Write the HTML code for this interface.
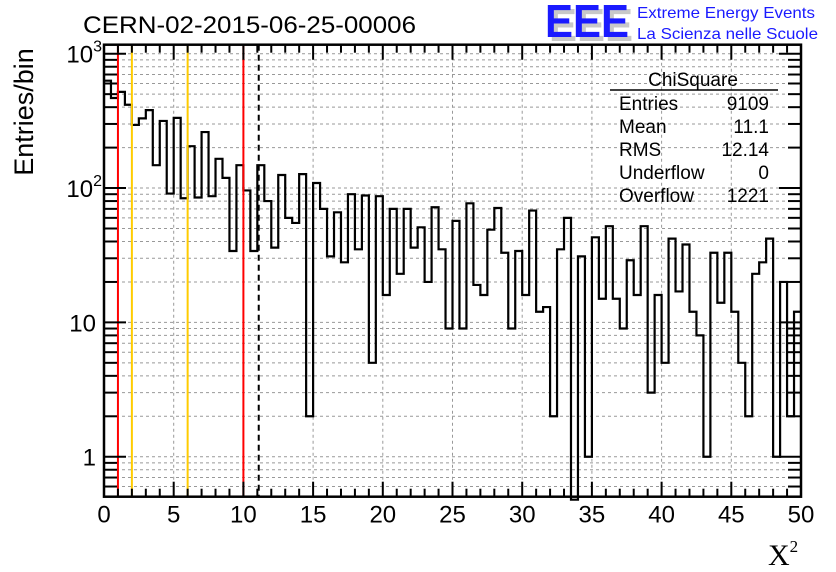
<!DOCTYPE html>
<html><head><meta charset="utf-8"><style>
html,body{margin:0;padding:0;background:#fff;}
svg{display:block;font-family:"Liberation Sans",sans-serif;}
</style></head><body>
<svg id="c" width="836" height="572" viewBox="0 0 836 572">
<g id="grid"></g>
<g id="marks"></g>
<g id="axes"></g>
<text x="83" y="33" font-size="24.5" textLength="333" lengthAdjust="spacingAndGlyphs">CERN-02-2015-06-25-00006</text>
<g>
<text x="549" y="41" font-size="46" font-weight="bold" fill="#c8c8c8" textLength="84" lengthAdjust="spacingAndGlyphs">EEE</text>
<text x="545" y="37" font-size="46" font-weight="bold" fill="#1a1aff" textLength="84" lengthAdjust="spacingAndGlyphs">EEE</text>
<text x="637" y="18" font-size="16" fill="#1a1aff" textLength="178" lengthAdjust="spacingAndGlyphs">Extreme Energy Events</text>
<text x="637" y="39" font-size="16" fill="#1a1aff" textLength="181" lengthAdjust="spacingAndGlyphs">La Scienza nelle Scuole</text>
</g>
<g font-size="19">
<text x="693" y="86" text-anchor="middle">ChiSquare</text>
<line x1="610" y1="90" x2="778" y2="90" stroke="#000" stroke-width="1.5"/>
<text x="619" y="110">Entries</text><text x="769" y="110" text-anchor="end">9109</text>
<text x="619" y="133">Mean</text><text x="769" y="133" text-anchor="end">11.1</text>
<text x="619" y="156">RMS</text><text x="769" y="156" text-anchor="end">12.14</text>
<text x="619" y="179">Underflow</text><text x="769" y="179" text-anchor="end">0</text>
<text x="619" y="202">Overflow</text><text x="769" y="202" text-anchor="end">1221</text>
</g>
<text transform="translate(33,112) rotate(-90)" text-anchor="middle" font-size="27">Entries/bin</text>
<text x="768" y="565" font-size="30" font-family="'Liberation Serif',serif">X<tspan font-size="17" dy="-13">2</tspan></text>
</svg>
<script>
const binCounts = [630,468,520,417,295,330,380,148,316,91,333,84,205,85,261,87,165,119,34,148,96,34,148,80,36,125,60,55,127,2,109,70,31,66,28,90,35,88,5,87,16,70,23,70,36,51,20,72,35,9,57,9,77,19,16,49,71,33,9,34,16,68,12,13,2,35,60,0,31,1,43,15,52,15,9,29,16,52,3,16,5,42,17,38,12,8,1,33,14,33,12,5,2,23,28,42,1,20,2,12];
const xTicks = [0,5,10,15,20,25,30,35,40,45,50];
const yDecades = [1,10,100,1000];
const yTickLabels = ["1","10","10²","10³"];
const refLines = [{x:1,c:"#ff0000",n:"red-line-1"},{x:2,c:"#ffcc00",n:"yellow-line-2"},{x:6,c:"#ffcc00",n:"yellow-line-6"},{x:10,c:"#ff0000",n:"red-line-10"}];
const meanValue = 11.1;

const L=104,R=801,T=44.7,B=496.7;
const xmin=0,xmax=50,ymin=0.504,ymax=1167;
const X=v=>L+(v-xmin)/(xmax-xmin)*(R-L);
const Y=v=>B-(Math.log10(v)-Math.log10(ymin))/(Math.log10(ymax)-Math.log10(ymin))*(B-T);
const NS="http://www.w3.org/2000/svg";
function mk(tag,attrs,parent){const e=document.createElementNS(NS,tag);for(const k in attrs)e.setAttribute(k,attrs[k]);parent.appendChild(e);return e;}
const grid=document.getElementById('grid'),marks=document.getElementById('marks'),axes=document.getElementById('axes');

xTicks.forEach(t=>{if(t>xmin&&t<xmax){const l=mk('line',{x1:X(t),x2:X(t),y1:T,y2:B,stroke:'#999','stroke-width':1,'stroke-dasharray':'3,3'},grid);

}});
const yGridVals=[0.6,0.7,0.8,0.9];
yDecades.forEach(d=>{for(let m=1;m<10;m++)yGridVals.push(d*m);});
yGridVals.forEach(v=>{if(v<=ymin||v>=ymax)return;
const l=mk('line',{x1:L,x2:R,y1:Y(v),y2:Y(v),stroke:'#999','stroke-width':1,'stroke-dasharray':'3,3'},grid);

});

const w=(xmax-xmin)/binCounts.length;
const yOf=c=>c>0?Math.max(T,Y(c)):B+3;
let d='M'+X(0)+','+yOf(binCounts[0]);
binCounts.forEach((c,i)=>{const y=yOf(c);d+=' L'+X(i*w)+','+y+' L'+X((i+1)*w)+','+y;});
const hp=mk('path',{d:d,fill:'none',stroke:'#000','stroke-width':2.2,'stroke-linejoin':'miter'},marks);



refLines.forEach(r=>{const l=mk('line',{x1:X(r.x),x2:X(r.x),y1:T,y2:B,stroke:r.c,'stroke-width':2},marks);

});
const ml=mk('line',{x1:X(meanValue),x2:X(meanValue),y1:T,y2:B,stroke:'#000','stroke-width':2,'stroke-dasharray':'6,4'},marks);



const fr=mk('rect',{x:L,y:T,width:R-L,height:B-T,fill:'none',stroke:'#000','stroke-width':2.5},axes);



for(let t=xmin;t<=xmax;t++){const len=(t%5===0)?15:8;
const a=mk('line',{x1:X(t),x2:X(t),y1:B,y2:B-len,stroke:'#000','stroke-width':2},axes);


const b=mk('line',{x1:X(t),x2:X(t),y1:T,y2:T+len,stroke:'#000','stroke-width':2},axes);

}
xTicks.forEach(t=>{const tx=mk('text',{x:X(t),y:B+26,'text-anchor':'middle','font-size':24},axes);tx.textContent=String(t);

});

yGridVals.forEach(v=>{if(v<ymin||v>ymax)return;const major=yDecades.includes(v);const len=major?22:13;
const a=mk('line',{x1:L,x2:L+len,y1:Y(v),y2:Y(v),stroke:'#000','stroke-width':2},axes);


const b=mk('line',{x1:R,x2:R-len,y1:Y(v),y2:Y(v),stroke:'#000','stroke-width':2},axes);

});
yDecades.forEach((v,i)=>{const tx=mk('text',{x:L-8,y:Y(v)+9,'text-anchor':'end','font-size':24},axes);
const s=yTickLabels[i];
if(s.length===3){tx.textContent='10';const sp=mk('tspan',{'font-size':16,dy:-11},tx);sp.textContent=s==='10²'?'2':'3';tx.setAttribute('x',L-2);}
else tx.textContent=s;

});
</script>
</body></html>
